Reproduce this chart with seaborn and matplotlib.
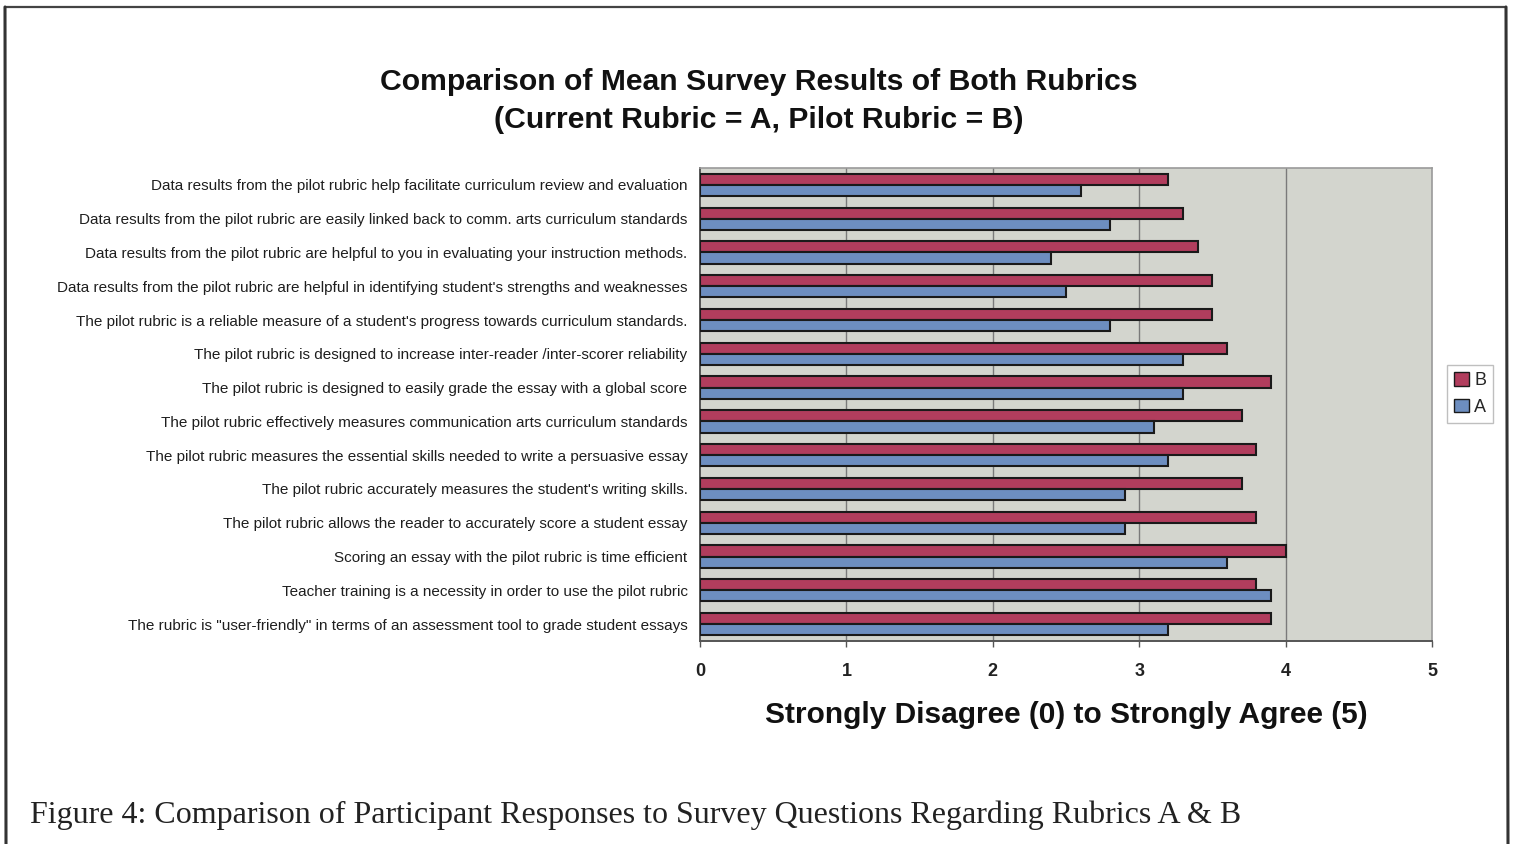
import matplotlib
matplotlib.use("Agg")
import matplotlib.pyplot as plt
from matplotlib import font_manager
from matplotlib.lines import Line2D
import pandas as pd
import seaborn as sns

# Survey statements (top to bottom) and mean scores for each rubric
statements = [
    "Data results from the pilot rubric help facilitate curriculum review and evaluation",
    "Data results from the pilot rubric are easily linked back to comm. arts curriculum standards",
    "Data results from the pilot rubric are helpful to you in evaluating your instruction methods.",
    "Data results from the pilot rubric are helpful in identifying student's strengths and weaknesses",
    "The pilot rubric is a reliable measure of a student's progress towards curriculum standards.",
    "The pilot rubric is designed to increase inter-reader /inter-scorer reliability",
    "The pilot rubric is designed to easily grade the essay with a global score",
    "The pilot rubric effectively measures communication arts curriculum standards",
    "The pilot rubric measures the essential skills needed to write a persuasive essay",
    "The pilot rubric accurately measures the student's writing skills.",
    "The pilot rubric allows the reader to accurately score a student essay",
    "Scoring an essay with the pilot rubric is time efficient",
    "Teacher training is a necessity in order to use the pilot rubric",
    "The rubric is \"user-friendly\" in terms of an assessment tool to grade student essays",
]
pilot_b = [3.2, 3.3, 3.4, 3.5, 3.5, 3.6, 3.9, 3.7, 3.8, 3.7, 3.8, 4.0, 3.8, 3.9]
current_a = [2.6, 2.8, 2.4, 2.5, 2.8, 3.3, 3.3, 3.1, 3.2, 2.9, 2.9, 3.6, 3.9, 3.2]
rubrics = ["B", "A"]
x_ticks = [0, 1, 2, 3, 4, 5]

df = pd.DataFrame({
    "statement": statements * 2,
    "score": pilot_b + current_a,
    "rubric": ["B"] * len(statements) + ["A"] * len(statements),
})

sns.set_theme(style="white")
available = {f.name for f in font_manager.fontManager.ttflist}
sans = "Liberation Sans" if "Liberation Sans" in available else "DejaVu Sans"
serif = "Liberation Serif" if "Liberation Serif" in available else "DejaVu Serif"
plt.rcParams["font.family"] = [sans, "DejaVu Sans"]

fig = plt.figure(figsize=(15.13, 8.44), dpi=100)
fig.patch.set_facecolor("white")
ax = fig.add_axes([700 / 1513, 1 - 641 / 844, 732 / 1513, 473 / 844])
ax.set_facecolor("#d3d5ce")

palette = {"B": "#b13d5d", "A": "#6d8ec0"}
sns.barplot(
    data=df, x="score", y="statement", hue="rubric", hue_order=rubrics,
    palette=palette, orient="h", width=0.66, dodge=True,
    edgecolor="#1a1a1a", linewidth=1.5, saturation=1, errorbar=None,
    legend=False, ax=ax, zorder=3,
)

ax.set_xlim(0, 5)
ax.set_xticks(x_ticks)
ax.set_xticklabels([str(t) for t in x_ticks], fontsize=13, fontweight="bold",
                   color="#222222")
for t in x_ticks[1:-1]:
    ax.axvline(t, color="#7a7a7a", linewidth=1.0, zorder=1)

ax.tick_params(axis="x", length=4, width=1, color="#555555", pad=12,
               direction="out", bottom=True)
ax.tick_params(axis="y", length=0, pad=9)
for lbl in ax.get_yticklabels():
    lbl.set_fontsize(11)
    lbl.set_color("#1e1e1e")

ax.set_ylabel("")
ax.set_xlabel("Strongly Disagree (0) to Strongly Agree (5)", fontsize=21.5,
              fontweight="bold", labelpad=15, color="#111111")

for side in ["top", "right"]:
    ax.spines[side].set_color("#9a9a9a")
    ax.spines[side].set_linewidth(1.2)
for side in ["left", "bottom"]:
    ax.spines[side].set_color("#555555")
    ax.spines[side].set_linewidth(1.4)

fig.text(759 / 1513, 1 - 101 / 844,
         "Comparison of Mean Survey Results of Both Rubrics\n(Current Rubric = A, Pilot Rubric = B)",
         ha="center", va="center", fontsize=21.7, fontweight="bold",
         linespacing=1.45, color="#111111")

handles = [
    plt.Rectangle((0, 0), 1, 1, facecolor=palette[r], edgecolor="#1a1a1a", linewidth=1.0)
    for r in rubrics
]
leg = fig.legend(handles, rubrics, loc="center left",
                 bbox_to_anchor=(1447 / 1513, 1 - 394 / 844),
                 fontsize=13, frameon=True, fancybox=False, handlelength=0.8,
                 handleheight=0.8, handletextpad=0.3, borderpad=0.4,
                 labelspacing=0.5, borderaxespad=0)
leg.get_frame().set_edgecolor("#b0b0b0")
leg.get_frame().set_linewidth(1.0)

# Page frame around the figure
fig.add_artist(Line2D([5 / 1513, 1506 / 1513], [1 - 7 / 844, 1 - 7 / 844],
                      transform=fig.transFigure, color="#444444", linewidth=1.6))
fig.add_artist(Line2D([5 / 1513, 6 / 1513], [1 - 7 / 844, 0],
                      transform=fig.transFigure, color="#333333", linewidth=2.2))
fig.add_artist(Line2D([1506 / 1513, 1508 / 1513], [1 - 7 / 844, 0],
                      transform=fig.transFigure, color="#333333", linewidth=2.2))

fig.text(30 / 1513, 1 - 815 / 844,
         "Figure 4: Comparison of Participant Responses to Survey Questions Regarding Rubrics A & B",
         ha="left", va="center", fontsize=23, fontfamily=[serif, "DejaVu Serif"],
         color="#222222")

fig.savefig("out.png", dpi=100, facecolor="white")
